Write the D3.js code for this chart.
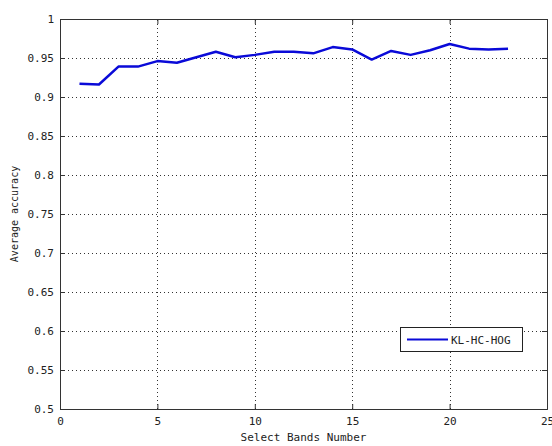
<!DOCTYPE html>
<html>
<head>
<meta charset="utf-8">
<script src="https://cdn.jsdelivr.net/npm/d3@7"></script>
<style>
body { margin: 0; background: #fff; }
</style>
</head>
<body>
<div id="chart"></div>
<script>
width = 552;
height = 446;
chart_margins = {left: 60, right: 5, top: 19, bottom: 37};
mono = "DejaVu Sans Mono, monospace";

// values
var bands = [1, 2, 3, 4, 5, 6, 7, 8, 9, 10, 11, 12, 13, 14, 15, 16, 17, 18, 19, 20, 21, 22, 23];
var accuracy = [0.917, 0.916, 0.939, 0.939, 0.946, 0.944, 0.951, 0.958, 0.951, 0.954, 0.958, 0.958,
                0.956, 0.964, 0.961, 0.948, 0.959, 0.954, 0.960, 0.968, 0.962, 0.961, 0.962];
var xTicks = [0, 5, 10, 15, 20, 25];
var yTicks = [0.5, 0.55, 0.6, 0.65, 0.7, 0.75, 0.8, 0.85, 0.9, 0.95, 1];
var seriesName = "KL-HC-HOG";

var xScale = d3.scaleLinear().domain([0, 25]).range([chart_margins.left, width - chart_margins.right]);
var yScale = d3.scaleLinear().domain([0.5, 1]).range([height - chart_margins.bottom, chart_margins.top]);

var plot = d3.select("#chart").append("svg")
    .attr("width", width)
    .attr("height", height);

// dotted grid
plot.append("g")
    .selectAll("line")
    .data(xTicks.slice(1, -1))
    .enter()
    .append("line")
    .attr("x1", d => Math.round(xScale(d)) + 0.5)
    .attr("x2", d => Math.round(xScale(d)) + 0.5)
    .attr("y1", yScale(0.5))
    .attr("y2", yScale(1))
    .attr("stroke", "#333")
    .attr("stroke-dasharray", "1,3");

plot.append("g")
    .selectAll("line")
    .data(yTicks.slice(1, -1))
    .enter()
    .append("line")
    .attr("x1", xScale(0))
    .attr("x2", xScale(25))
    .attr("y1", d => Math.round(yScale(d)) + 0.5)
    .attr("y2", d => Math.round(yScale(d)) + 0.5)
    .attr("stroke", "#333")
    .attr("stroke-dasharray", "1,3");

// axes, ticks pointing inward on all sides
var xAxis = d3.axisBottom(xScale).tickValues(xTicks).tickSize(-5).tickPadding(8).tickFormat(d3.format("d"));
var yAxis = d3.axisLeft(yScale).tickValues(yTicks).tickSize(-5).tickPadding(6).tickFormat(d => d === 1 || d === 0.5 ? String(d) : d3.format(".2~f")(d));

plot.append("g")
    .attr("transform", "translate(0, " + (height - chart_margins.bottom) + ")")
    .call(xAxis);
plot.append("g")
    .attr("transform", "translate(" + chart_margins.left + ", 0)")
    .call(yAxis);

plot.append("g")
    .attr("transform", "translate(0, " + chart_margins.top + ")")
    .call(d3.axisTop(xScale).tickValues(xTicks).tickSize(-5).tickFormat(""));
plot.append("g")
    .attr("transform", "translate(" + (width - chart_margins.right) + ", 0)")
    .call(d3.axisRight(yScale).tickValues(yTicks).tickSize(-5).tickFormat(""));

plot.selectAll(".domain").attr("stroke", "#333");
plot.selectAll(".tick line").attr("stroke", "#333");
plot.selectAll(".tick text")
    .style("font-family", mono)
    .style("font-size", "11px")
    .attr("fill", "#222");

// series line
var line = d3.line()
    .x((d, i) => xScale(bands[i]))
    .y(d => yScale(d));

plot.append("path")
    .datum(accuracy)
    .attr("d", line)
    .attr("fill", "none")
    .attr("stroke", "#0a0ad8")
    .attr("stroke-width", 2.5)
    .attr("stroke-linejoin", "round");

// axis labels
plot.append("text")
    .attr("x", (xScale(0) + xScale(25)) / 2)
    .attr("y", 441)
    .attr("text-anchor", "middle")
    .style("font-family", mono)
    .style("font-size", "11px")
    .attr("fill", "#222")
    .text("Select Bands Number");

plot.append("text")
    .attr("transform", "translate(18, " + ((yScale(0.5) + yScale(1)) / 2) + ") rotate(-90)")
    .attr("text-anchor", "middle")
    .style("font-family", mono)
    .style("font-size", "10px")
    .attr("fill", "#222")
    .text("Average accuracy");

// legend
var legend = plot.append("g").attr("transform", "translate(400, 327)");
legend.append("rect")
    .attr("x", 0.5).attr("y", 0.5)
    .attr("width", 122).attr("height", 24)
    .attr("fill", "#fff")
    .attr("stroke", "#222");
legend.append("line")
    .attr("x1", 7).attr("x2", 48)
    .attr("y1", 12.5).attr("y2", 12.5)
    .attr("stroke", "#0a0ad8")
    .attr("stroke-width", 2);
legend.append("text")
    .attr("x", 51).attr("y", 17)
    .style("font-family", mono)
    .style("font-size", "11px")
    .attr("fill", "#222")
    .text(seriesName);
</script>
</body>
</html>
